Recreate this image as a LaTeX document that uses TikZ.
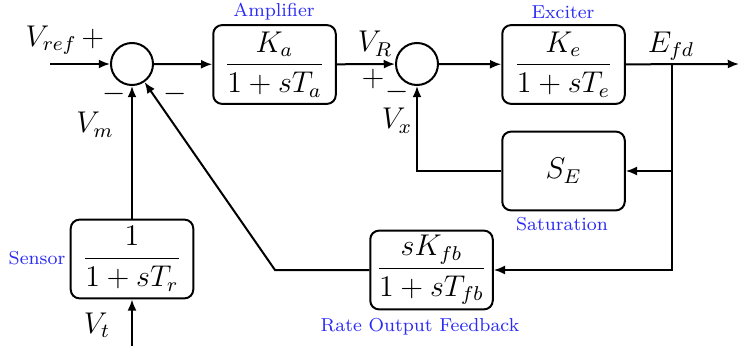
\documentclass[tikz,border=0pt]{standalone}
\usepackage{amsmath}
\usetikzlibrary{arrows.meta,positioning}
\definecolor{lblue}{HTML}{2B2BF5}

\tikzset{
  blk/.style={draw,thick,rounded corners=3.5pt,minimum width=49pt,minimum height=31.5pt,inner sep=1pt,font=\large},
  sumj/.style={draw,thick,circle,minimum size=16.8pt,inner sep=0pt},
  tag/.style={text=lblue,font=\fontsize{7.5}{9}\selectfont},
  sig/.style={font=\large,inner sep=1pt},
  flow/.style={thick,-{Latex[length=4.5pt,width=3.6pt]}}
}

\begin{document}
\begin{tikzpicture}[x=0.4pt,y=-0.4pt]
 \useasboundingbox (0,0) rectangle (740,346);
 % blocks and summing points
 \node[sumj] (s1) at (132,64) {};
 \node[blk] (amp) at (274.5,64.5) {$\dfrac{K_a}{1+sT_a}$};
 \node[sumj] (s2) at (417,64) {};
 \node[blk] (exc) at (563.5,64.5) {$\dfrac{K_e}{1+sT_e}$};
 \node[blk] (sat) at (563.5,171) {$S_E$};
 \node[blk] (rfb) at (431.5,270) {$\dfrac{sK_{fb}}{1+sT_{fb}}$};
 \node[blk] (sen) at (132,259) {$\dfrac{1}{1+sT_r}$};
 \coordinate (vref) at (50,64);
 \coordinate (out) at (739,64);
 \coordinate (br) at (672,64);
 \coordinate (vt) at (132,346);
 \coordinate (bend) at (275,270);
 % connectors
 \draw[flow] (vref) -- (s1);
 \draw[flow] (s1) -- (amp);
 \draw[flow] (amp) -- (s2);
 \draw[flow] (s2) -- (exc);
 \draw[flow] (exc) -- (out);
 \draw[flow] (br) |- (sat);
 \draw[flow] (br) |- (rfb);
 \draw[flow] (sat) -| (s2);
 \draw[flow] (rfb) -- (bend) -- (s1);
 \draw[flow] (sen) -- (s1);
 \draw[flow] (vt) -- (sen);
 % labels
 \node[tag] (tamp) at (274,12) {Amplifier};
 \node[tag] (texc) at (563,12) {Exciter};
 \node[tag] (tsat) at (562,224) {Saturation};
 \node[tag] (trfb) at (420,327) {Rate Output Feedback};
 \node[tag] (tsen) at (37,258) {Sensor};
 \node[sig] (lref) at (65,40) {$V_{ref}\,+$};
 \node[sig] (lm1) at (114,94) {$-$};
 \node[sig] (lm2) at (175,94) {$-$};
 \node[sig] (lvm) at (95,125) {$V_m$};
 \node[sig] (lvr) at (375,44) {$V_R$};
 \node[sig] (lp) at (373,79) {$+$};
 \node[sig] (lm3) at (397,92) {$-$};
 \node[sig] (lvx) at (397,121) {$V_x$};
 \node[sig] (lefd) at (671,46) {$E_{fd}$};
 \node[sig] (lvt) at (97,325) {$V_t$};
\end{tikzpicture}
\end{document}
